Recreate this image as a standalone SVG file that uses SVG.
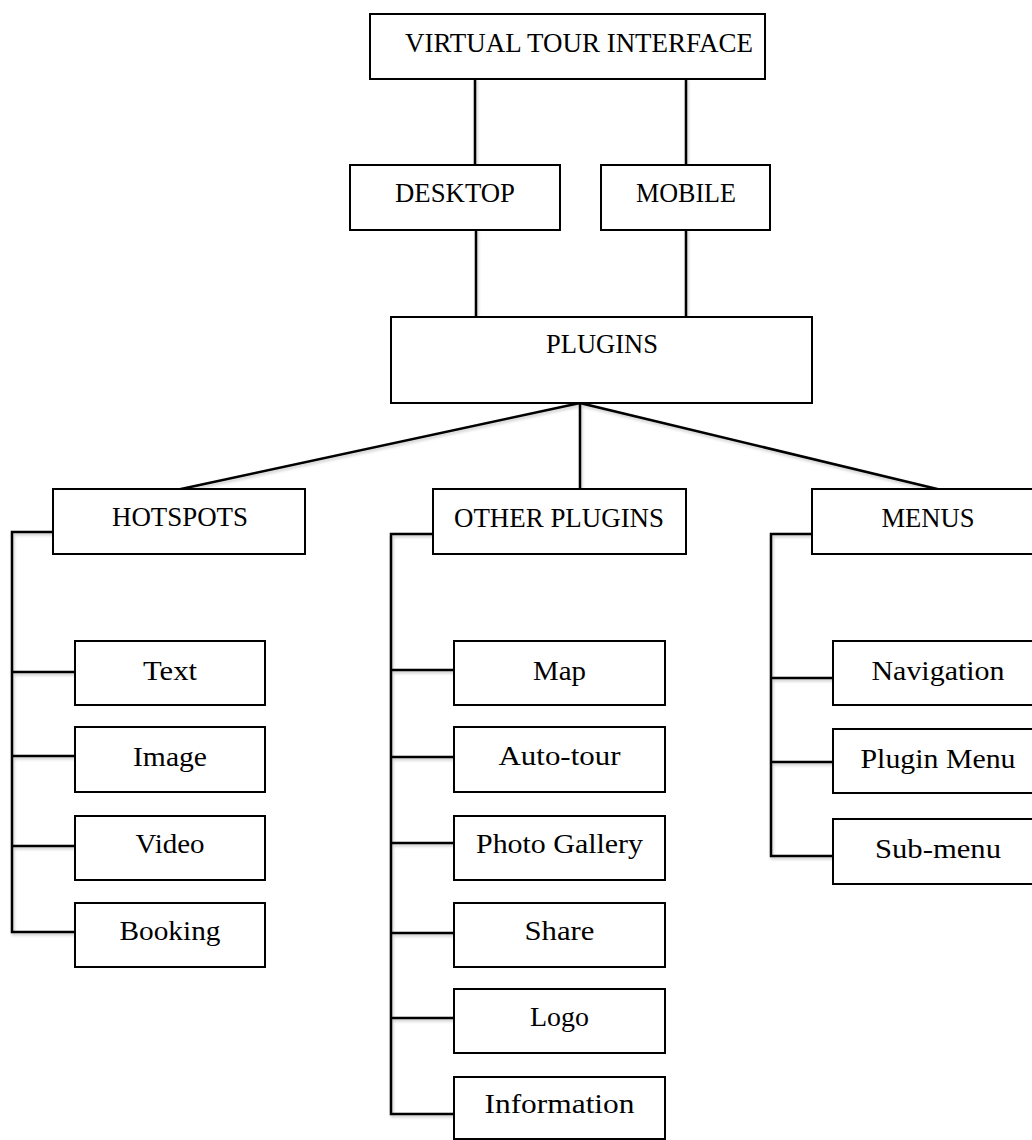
<svg xmlns="http://www.w3.org/2000/svg" width="1032" height="1140" viewBox="0 0 1032 1140">
<defs>
<filter id="sh" x="-5%" y="-5%" width="110%" height="110%">
<feDropShadow dx="1" dy="2" stdDeviation="1.5" flood-color="#000" flood-opacity="0.22"/>
</filter>
</defs>
<style>
.box{fill:#fff;stroke:#000;stroke-width:2}
.lbl{font-family:"Liberation Serif","Times New Roman",serif;font-size:28px;fill:#000;text-anchor:middle}
.con{fill:none;stroke:#000;stroke-width:2.5;stroke-linecap:square}
</style>
<rect width="1032" height="1140" fill="#fff"/>
<g id="connectors" filter="url(#sh)">
<path class="con" d="M475 79V165M686 79V165M476 230V317M686 230V317"/>
<path class="con" d="M580 403L181 489M580 403V489M580 403L937 489"/>
<path class="con" d="M53 532H12V932M12 672H75M12 756H75M12 846H75M12 932H75"/>
<path class="con" d="M433 534H391V1114M391 670H454M391 757H454M391 843H454M391 933H454M391 1018H454M391 1114H454"/>
<path class="con" d="M812 534H771V856M771 678H833M771 762H833M771 856H833"/>
</g>
<g id="n-vti"><rect class="box" x="370" y="14" width="395" height="65"/><text class="lbl" x="579" y="52" textLength="348" lengthAdjust="spacingAndGlyphs">VIRTUAL TOUR INTERFACE</text></g>
<g id="n-desktop"><rect class="box" x="350" y="165" width="210" height="65"/><text class="lbl" x="455" y="202" textLength="120" lengthAdjust="spacingAndGlyphs">DESKTOP</text></g>
<g id="n-mobile"><rect class="box" x="601" y="165" width="169" height="65"/><text class="lbl" x="686" y="202" textLength="100" lengthAdjust="spacingAndGlyphs">MOBILE</text></g>
<g id="n-plugins"><rect class="box" x="391" y="317" width="421" height="86"/><text class="lbl" x="602" y="353" textLength="112" lengthAdjust="spacingAndGlyphs">PLUGINS</text></g>
<g id="n-hotspots"><rect class="box" x="53" y="489" width="252" height="65"/><text class="lbl" x="180" y="526" textLength="136" lengthAdjust="spacingAndGlyphs">HOTSPOTS</text></g>
<g id="n-other"><rect class="box" x="433" y="489" width="253" height="65"/><text class="lbl" x="559" y="527" textLength="210" lengthAdjust="spacingAndGlyphs">OTHER PLUGINS</text></g>
<g id="n-menus"><rect class="box" x="812" y="489" width="240" height="65"/><text class="lbl" x="928" y="527" textLength="93" lengthAdjust="spacingAndGlyphs">MENUS</text></g>
<g id="n-text"><rect class="box" x="75" y="641" width="190" height="64"/><text class="lbl" x="170" y="680" textLength="54" lengthAdjust="spacingAndGlyphs">Text</text></g>
<g id="n-image"><rect class="box" x="75" y="727" width="190" height="65"/><text class="lbl" x="170" y="766" textLength="74" lengthAdjust="spacingAndGlyphs">Image</text></g>
<g id="n-video"><rect class="box" x="75" y="816" width="190" height="64"/><text class="lbl" x="170" y="853" textLength="69" lengthAdjust="spacingAndGlyphs">Video</text></g>
<g id="n-booking"><rect class="box" x="75" y="903" width="190" height="64"/><text class="lbl" x="170" y="940" textLength="101" lengthAdjust="spacingAndGlyphs">Booking</text></g>
<g id="n-map"><rect class="box" x="454" y="641" width="211" height="64"/><text class="lbl" x="559.5" y="680" textLength="53" lengthAdjust="spacingAndGlyphs">Map</text></g>
<g id="n-autotour"><rect class="box" x="454" y="727" width="211" height="65"/><text class="lbl" x="559.5" y="765" textLength="122" lengthAdjust="spacingAndGlyphs">Auto-tour</text></g>
<g id="n-photo"><rect class="box" x="454" y="816" width="211" height="64"/><text class="lbl" x="559.5" y="853" textLength="167" lengthAdjust="spacingAndGlyphs">Photo Gallery</text></g>
<g id="n-share"><rect class="box" x="454" y="903" width="211" height="64"/><text class="lbl" x="559.5" y="940" textLength="70" lengthAdjust="spacingAndGlyphs">Share</text></g>
<g id="n-logo"><rect class="box" x="454" y="989" width="211" height="64"/><text class="lbl" x="559.5" y="1026" textLength="59" lengthAdjust="spacingAndGlyphs">Logo</text></g>
<g id="n-info"><rect class="box" x="454" y="1077" width="211" height="62"/><text class="lbl" x="559.5" y="1113" textLength="150" lengthAdjust="spacingAndGlyphs">Information</text></g>
<g id="n-nav"><rect class="box" x="833" y="641" width="220" height="64"/><text class="lbl" x="938" y="680" textLength="133" lengthAdjust="spacingAndGlyphs">Navigation</text></g>
<g id="n-pmenu"><rect class="box" x="833" y="729" width="220" height="64"/><text class="lbl" x="938" y="768" textLength="155" lengthAdjust="spacingAndGlyphs">Plugin Menu</text></g>
<g id="n-submenu"><rect class="box" x="833" y="819" width="220" height="65"/><text class="lbl" x="938" y="858" textLength="126" lengthAdjust="spacingAndGlyphs">Sub-menu</text></g>
</svg>
